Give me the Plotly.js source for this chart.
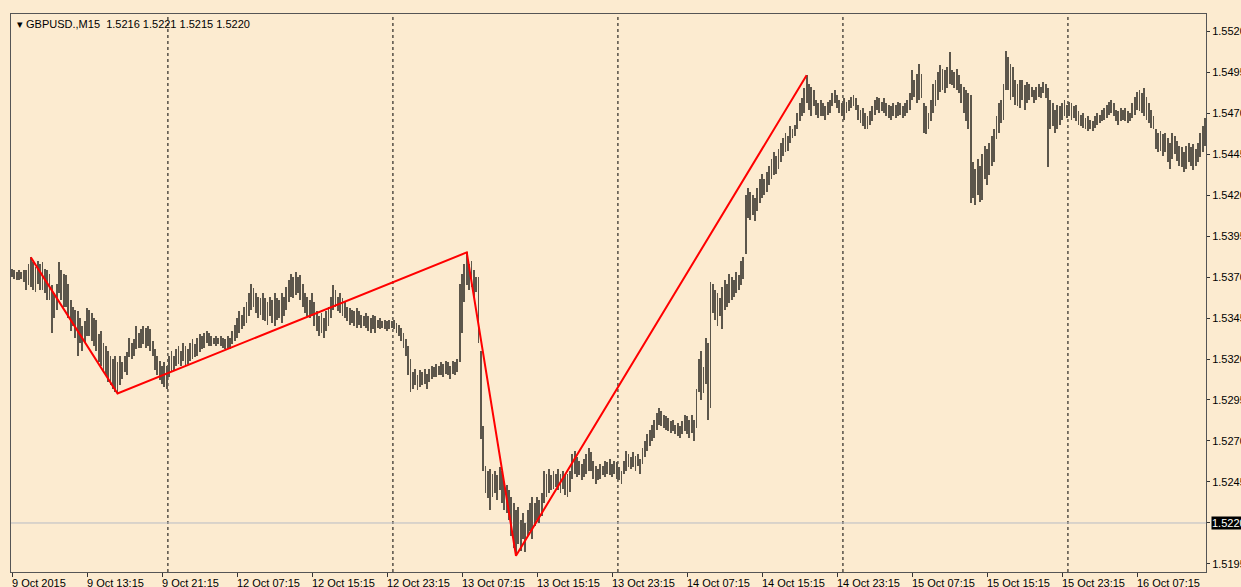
<!DOCTYPE html>
<html>
<head>
<meta charset="utf-8">
<script src="https://cdn.plot.ly/plotly-3.0.1.min.js"></script>
<style>
  html, body { margin: 0; padding: 0; background: #FCEBD0; }
  #chart { width: 1241px; height: 587px; }
</style>
</head>
<body>
<div id="chart"></div>
<script>
// ---- Data: GBPUSD M15 bars (high / low), one per 15-minute bar ----
const barHigh = [
  1.5375,1.5374,1.5373,1.5374,1.5373,1.5374,1.5374,1.5378,1.5382,1.5379,
  1.5376,1.5380,1.5378,1.5379,1.5375,1.5374,1.5372,1.5365,1.5360,1.5366,
  1.5379,1.5374,1.5372,1.5371,1.5366,1.5356,1.5352,1.5350,1.5349,1.5345,
  1.5340,1.5343,1.5351,1.5350,1.5348,1.5345,1.5344,1.5335,1.5337,1.5330,
  1.5328,1.5325,1.5322,1.5320,1.5322,1.5318,1.5322,1.5318,1.5322,1.5324,
  1.5333,1.5330,1.5332,1.5340,1.5336,1.5338,1.5340,1.5339,1.5340,1.5338,
  1.5331,1.5326,1.5322,1.5319,1.5316,1.5318,1.5316,1.5322,1.5325,1.5322,
  1.5326,1.5328,1.5325,1.5330,1.5328,1.5326,1.5330,1.5332,1.5329,1.5333,
  1.5335,1.5334,1.5336,1.5337,1.5336,1.5334,1.5333,1.5334,1.5333,1.5334,
  1.5333,1.5332,1.5334,1.5333,1.5337,1.5341,1.5345,1.5349,1.5347,1.5352,
  1.5355,1.5360,1.5366,1.5363,1.5360,1.5358,1.5357,1.5360,1.5357,1.5355,
  1.5358,1.5356,1.5360,1.5357,1.5356,1.5360,1.5358,1.5364,1.5368,1.5372,
  1.5370,1.5373,1.5370,1.5371,1.5366,1.5360,1.5358,1.5356,1.5360,1.5355,
  1.5349,1.5346,1.5348,1.5345,1.5349,1.5352,1.5358,1.5365,1.5362,1.5358,
  1.5360,1.5357,1.5355,1.5352,1.5351,1.5350,1.5349,1.5351,1.5349,1.5347,
  1.5346,1.5348,1.5346,1.5345,1.5347,1.5346,1.5344,1.5345,1.5343,1.5344,
  1.5343,1.5344,1.5343,1.5344,1.5342,1.5341,1.5339,1.5336,1.5332,1.5328,
  1.5320,1.5312,1.5314,1.5310,1.5313,1.5312,1.5314,1.5311,1.5314,1.5316,
  1.5315,1.5317,1.5316,1.5318,1.5317,1.5319,1.5318,1.5316,1.5319,1.5318,
  1.5320,1.5366,1.5372,1.5378,1.5385,1.5378,1.5380,1.5374,1.5370,1.5370,
  1.5325,1.5279,1.5255,1.5252,1.5253,1.5250,1.5252,1.5249,1.5254,1.5252,
  1.5245,1.5243,1.5240,1.5236,1.5232,1.5228,1.5230,1.5222,1.5226,1.5220,
  1.5228,1.5232,1.5236,1.5232,1.5236,1.5234,1.5238,1.5252,1.5250,1.5253,
  1.5249,1.5252,1.5250,1.5253,1.5250,1.5252,1.5249,1.5250,1.5252,1.5262,
  1.5264,1.5260,1.5258,1.5256,1.5259,1.5262,1.5266,1.5263,1.5258,1.5255,
  1.5253,1.5256,1.5255,1.5258,1.5257,1.5259,1.5256,1.5258,1.5257,1.5254,
  1.5252,1.5258,1.5264,1.5262,1.5260,1.5263,1.5261,1.5262,1.5259,1.5266,
  1.5270,1.5274,1.5277,1.5280,1.5283,1.5287,1.5290,1.5288,1.5286,1.5285,
  1.5284,1.5282,1.5283,1.5280,1.5281,1.5279,1.5282,1.5286,1.5285,1.5283,
  1.5286,1.5283,1.5302,1.5320,1.5325,1.5315,1.5333,1.5330,1.5367,1.5366,
  1.5362,1.5360,1.5357,1.5364,1.5368,1.5366,1.5372,1.5370,1.5368,1.5373,
  1.5371,1.5380,1.5382,1.5420,1.5424,1.5422,1.5420,1.5418,1.5424,1.5430,
  1.5433,1.5430,1.5434,1.5438,1.5442,1.5446,1.5444,1.5448,1.5452,1.5455,
  1.5458,1.5456,1.5462,1.5460,1.5463,1.5470,1.5476,1.5479,1.5485,1.5493,
  1.5488,1.5486,1.5484,1.5478,1.5476,1.5478,1.5476,1.5474,1.5477,1.5478,
  1.5482,1.5484,1.5481,1.5478,1.5476,1.5479,1.5477,1.5478,1.5480,1.5481,
  1.5479,1.5475,1.5472,1.5473,1.5470,1.5468,1.5471,1.5474,1.5478,1.5480,
  1.5479,1.5477,1.5479,1.5476,1.5475,1.5474,1.5476,1.5475,1.5477,1.5476,
  1.5474,1.5476,1.5478,1.5482,1.5496,1.5490,1.5494,1.5500,1.5494,1.5476,
  1.5474,1.5470,1.5478,1.5488,1.5490,1.5495,1.5499,1.5497,1.5496,1.5498,
  1.5507,1.5496,1.5495,1.5497,1.5493,1.5488,1.5486,1.5484,1.5482,1.5481,
  1.5440,1.5436,1.5442,1.5438,1.5445,1.5450,1.5448,1.5452,1.5456,1.5460,
  1.5468,1.5476,1.5478,1.5488,1.5508,1.5504,1.5500,1.5498,1.5490,1.5488,
  1.5490,1.5490,1.5487,1.5489,1.5488,1.5486,1.5484,1.5486,1.5488,1.5486,
  1.5489,1.5488,1.5485,1.5478,1.5476,1.5472,1.5475,1.5474,1.5476,1.5478,
  1.5475,1.5477,1.5476,1.5474,1.5475,1.5471,1.5469,1.5470,1.5467,1.5468,
  1.5466,1.5465,1.5468,1.5470,1.5469,1.5472,1.5473,1.5475,1.5477,1.5478,
  1.5476,1.5472,1.5471,1.5473,1.5472,1.5473,1.5471,1.5470,1.5476,1.5480,
  1.5483,1.5484,1.5482,1.5485,1.5480,1.5476,1.5472,1.5468,1.5460,1.5458,
  1.5459,1.5457,1.5458,1.5455,1.5452,1.5458,1.5456,1.5453,1.5450,1.5449,
  1.5446,1.5450,1.5452,1.5449,1.5451,1.5448,1.5452,1.5458,1.5462,1.5467
];
const barLow = [
  1.5370,1.5369,1.5368,1.5368,1.5369,1.5367,1.5362,1.5365,1.5364,1.5362,
  1.5361,1.5366,1.5362,1.5362,1.5360,1.5356,1.5356,1.5336,1.5345,1.5350,
  1.5360,1.5356,1.5352,1.5352,1.5345,1.5337,1.5340,1.5333,1.5322,1.5330,
  1.5325,1.5330,1.5334,1.5334,1.5331,1.5328,1.5325,1.5318,1.5316,1.5313,
  1.5310,1.5306,1.5304,1.5302,1.5300,1.5299,1.5304,1.5308,1.5312,1.5310,
  1.5321,1.5320,1.5322,1.5326,1.5327,1.5327,1.5329,1.5327,1.5328,1.5325,
  1.5322,1.5313,1.5310,1.5307,1.5305,1.5303,1.5302,1.5309,1.5312,1.5313,
  1.5316,1.5317,1.5316,1.5319,1.5316,1.5317,1.5319,1.5320,1.5321,1.5322,
  1.5324,1.5326,1.5327,1.5330,1.5328,1.5328,1.5329,1.5328,1.5329,1.5328,
  1.5327,1.5326,1.5327,1.5326,1.5329,1.5331,1.5333,1.5336,1.5338,1.5340,
  1.5342,1.5346,1.5350,1.5352,1.5348,1.5345,1.5347,1.5344,1.5343,1.5341,
  1.5346,1.5342,1.5340,1.5344,1.5345,1.5342,1.5346,1.5350,1.5355,1.5358,
  1.5357,1.5359,1.5360,1.5356,1.5352,1.5348,1.5346,1.5345,1.5346,1.5340,
  1.5337,1.5334,1.5336,1.5333,1.5337,1.5340,1.5345,1.5350,1.5352,1.5349,
  1.5348,1.5346,1.5345,1.5343,1.5341,1.5342,1.5340,1.5339,1.5341,1.5339,
  1.5340,1.5339,1.5337,1.5336,1.5338,1.5336,1.5339,1.5338,1.5339,1.5338,
  1.5337,1.5338,1.5339,1.5338,1.5336,1.5334,1.5331,1.5327,1.5322,1.5310,
  1.5300,1.5302,1.5304,1.5301,1.5303,1.5304,1.5305,1.5302,1.5306,1.5308,
  1.5309,1.5309,1.5310,1.5310,1.5309,1.5311,1.5310,1.5308,1.5311,1.5310,
  1.5312,1.5318,1.5336,1.5355,1.5365,1.5362,1.5364,1.5358,1.5361,1.5330,
  1.5271,1.5252,1.5238,1.5235,1.5228,1.5236,1.5238,1.5234,1.5240,1.5232,
  1.5228,1.5226,1.5222,1.5212,1.5205,1.5200,1.5207,1.5203,1.5210,1.5202,
  1.5212,1.5215,1.5210,1.5218,1.5222,1.5220,1.5224,1.5232,1.5236,1.5238,
  1.5240,1.5241,1.5242,1.5240,1.5238,1.5241,1.5237,1.5236,1.5239,1.5247,
  1.5250,1.5248,1.5249,1.5246,1.5248,1.5250,1.5252,1.5252,1.5247,1.5244,
  1.5246,1.5247,1.5249,1.5248,1.5250,1.5249,1.5248,1.5250,1.5247,1.5246,
  1.5244,1.5250,1.5252,1.5254,1.5253,1.5254,1.5252,1.5255,1.5250,1.5256,
  1.5260,1.5264,1.5267,1.5270,1.5272,1.5277,1.5280,1.5279,1.5278,1.5277,
  1.5276,1.5275,1.5276,1.5274,1.5273,1.5272,1.5274,1.5276,1.5274,1.5272,
  1.5275,1.5270,1.5278,1.5300,1.5295,1.5299,1.5305,1.5283,1.5290,1.5348,
  1.5344,1.5340,1.5346,1.5338,1.5350,1.5352,1.5354,1.5356,1.5358,1.5360,
  1.5362,1.5365,1.5369,1.5384,1.5406,1.5405,1.5408,1.5404,1.5410,1.5415,
  1.5418,1.5420,1.5422,1.5426,1.5430,1.5432,1.5433,1.5436,1.5440,1.5444,
  1.5446,1.5447,1.5452,1.5455,1.5456,1.5460,1.5465,1.5468,1.5470,1.5476,
  1.5472,1.5468,1.5474,1.5469,1.5467,1.5468,1.5468,1.5466,1.5469,1.5470,
  1.5474,1.5476,1.5473,1.5470,1.5468,1.5466,1.5470,1.5471,1.5473,1.5474,
  1.5472,1.5466,1.5464,1.5462,1.5460,1.5460,1.5463,1.5465,1.5469,1.5472,
  1.5470,1.5471,1.5470,1.5468,1.5467,1.5466,1.5468,1.5467,1.5468,1.5469,
  1.5467,1.5468,1.5470,1.5472,1.5478,1.5480,1.5476,1.5478,1.5479,1.5458,
  1.5457,1.5460,1.5465,1.5470,1.5474,1.5478,1.5483,1.5484,1.5482,1.5485,
  1.5488,1.5487,1.5485,1.5484,1.5482,1.5476,1.5470,1.5465,1.5460,1.5415,
  1.5418,1.5414,1.5420,1.5416,1.5417,1.5430,1.5426,1.5432,1.5438,1.5440,
  1.5454,1.5458,1.5464,1.5466,1.5484,1.5484,1.5478,1.5480,1.5475,1.5474,
  1.5473,1.5478,1.5472,1.5476,1.5478,1.5480,1.5476,1.5478,1.5480,1.5479,
  1.5482,1.5479,1.5437,1.5460,1.5462,1.5458,1.5460,1.5463,1.5466,1.5468,
  1.5467,1.5468,1.5466,1.5467,1.5465,1.5463,1.5462,1.5461,1.5460,1.5459,
  1.5460,1.5459,1.5461,1.5463,1.5464,1.5465,1.5466,1.5467,1.5469,1.5470,
  1.5468,1.5465,1.5463,1.5465,1.5466,1.5465,1.5464,1.5465,1.5467,1.5469,
  1.5472,1.5471,1.5470,1.5468,1.5466,1.5464,1.5461,1.5460,1.5448,1.5446,
  1.5447,1.5444,1.5446,1.5440,1.5436,1.5442,1.5445,1.5441,1.5438,1.5437,
  1.5434,1.5436,1.5440,1.5438,1.5435,1.5438,1.5440,1.5443,1.5446,1.5450
];

// ZigZag swing points (bar number, price)
const zigzagBar   = [8, 45, 194, 215, 339];
const zigzagPrice = [1.5382, 1.5299, 1.5385, 1.5200, 1.5493];

// Time-axis labels (bar number, text)
const timeTickBars   = [0,32,64,96,128,160,192,224,256,288,320,352,384,416,448,480];
const timeTickLabels = ["9 Oct 2015","9 Oct 13:15","9 Oct 21:15","12 Oct 07:15","12 Oct 15:15",
  "12 Oct 23:15","13 Oct 07:15","13 Oct 15:15","13 Oct 23:15","14 Oct 07:15","14 Oct 15:15",
  "14 Oct 23:15","15 Oct 07:15","15 Oct 15:15","15 Oct 23:15","16 Oct 07:15"];

// Day separators (between bars)
const daySeparators = [66.5, 162.5, 258.5, 354.5, 450.5];

// Price scale labels
const priceTicks = [1.5195,1.5220,1.5245,1.5270,1.5295,1.5320,1.5345,1.5370,1.5395,1.5420,1.5445,1.5470,1.5495,1.5520];
const currentPrice = 1.5220;
const headerText = "GBPUSD.,M15  1.5216 1.5221 1.5215 1.5220";

// ---- Build chart ----
const BG = '#FCEBD0';
const FONT = 'Liberation Sans, Arial, sans-serif';
const idx = barHigh.map((_, i) => i);

const bars = {
  type: 'bar',
  x: idx,
  base: barLow,
  y: barHigh.map((h, i) => h - barLow[i]),
  width: 0.8,
  marker: { color: '#5c564b', line: { width: 0 } },
  hoverinfo: 'skip',
  showlegend: false
};

const zigzag = {
  type: 'scatter',
  mode: 'lines',
  x: zigzagBar,
  y: zigzagPrice,
  line: { color: '#FF0000', width: 2 },
  hoverinfo: 'skip',
  showlegend: false
};

const shapes = [];
daySeparators.forEach(b => shapes.push({
  type: 'line', xref: 'x', yref: 'paper', x0: b, x1: b, y0: 0, y1: 1,
  line: { color: '#000000', width: 1, dash: '3px,3px' }, layer: 'below'
}));
shapes.push({
  type: 'line', xref: 'paper', yref: 'y', x0: 0, x1: 1, y0: currentPrice, y1: currentPrice,
  line: { color: '#B8BCC4', width: 1 }, layer: 'below'
});

const annotations = [];
timeTickBars.forEach((b, k) => annotations.push({
  xref: 'x', yref: 'paper', x: b, y: 0, xanchor: 'left', yanchor: 'top',
  xshift: -2, yshift: -3, showarrow: false, text: timeTickLabels[k],
  font: { family: FONT, size: 11, color: '#000' }
}));
annotations.push({
  xref: 'paper', yref: 'y', x: 1, y: currentPrice, xanchor: 'left', yanchor: 'middle',
  xshift: 5, showarrow: false, text: currentPrice.toFixed(4),
  bgcolor: '#000000', font: { family: FONT, size: 11, color: '#FFFFFF' }, borderpad: 0
});
annotations.push({
  xref: 'paper', yref: 'paper', x: 0, y: 1, xanchor: 'left', yanchor: 'top',
  xshift: 4, yshift: -2, showarrow: false, text: '\u25BE ' + headerText,
  font: { family: FONT, size: 11, color: '#000' }
});

const layout = {
  width: 1241, height: 587,
  margin: { l: 11, r: 35, t: 14, b: 15, pad: 0 },
  paper_bgcolor: BG, plot_bgcolor: BG,
  bargap: 0,
  xaxis: {
    range: [-0.45, 509.4],
    tickvals: timeTickBars, showticklabels: false,
    ticks: 'outside', ticklen: 4, tickcolor: '#333', tickwidth: 1,
    showgrid: false, zeroline: false,
    showline: true, linecolor: '#555', linewidth: 1, mirror: true
  },
  yaxis: {
    side: 'right',
    range: [1.51901, 1.55304],
    tickvals: priceTicks, ticktext: priceTicks.map(v => v.toFixed(4)),
    ticks: 'outside', ticklen: 3, tickcolor: '#333', tickwidth: 1,
    tickfont: { family: FONT, size: 11, color: '#000' },
    showgrid: false, zeroline: false,
    showline: true, linecolor: '#555', linewidth: 1, mirror: true
  },
  shapes: shapes,
  annotations: annotations
};

Plotly.newPlot('chart', [bars, zigzag], layout, { staticPlot: true, displayModeBar: false });
</script>
</body>
</html>
